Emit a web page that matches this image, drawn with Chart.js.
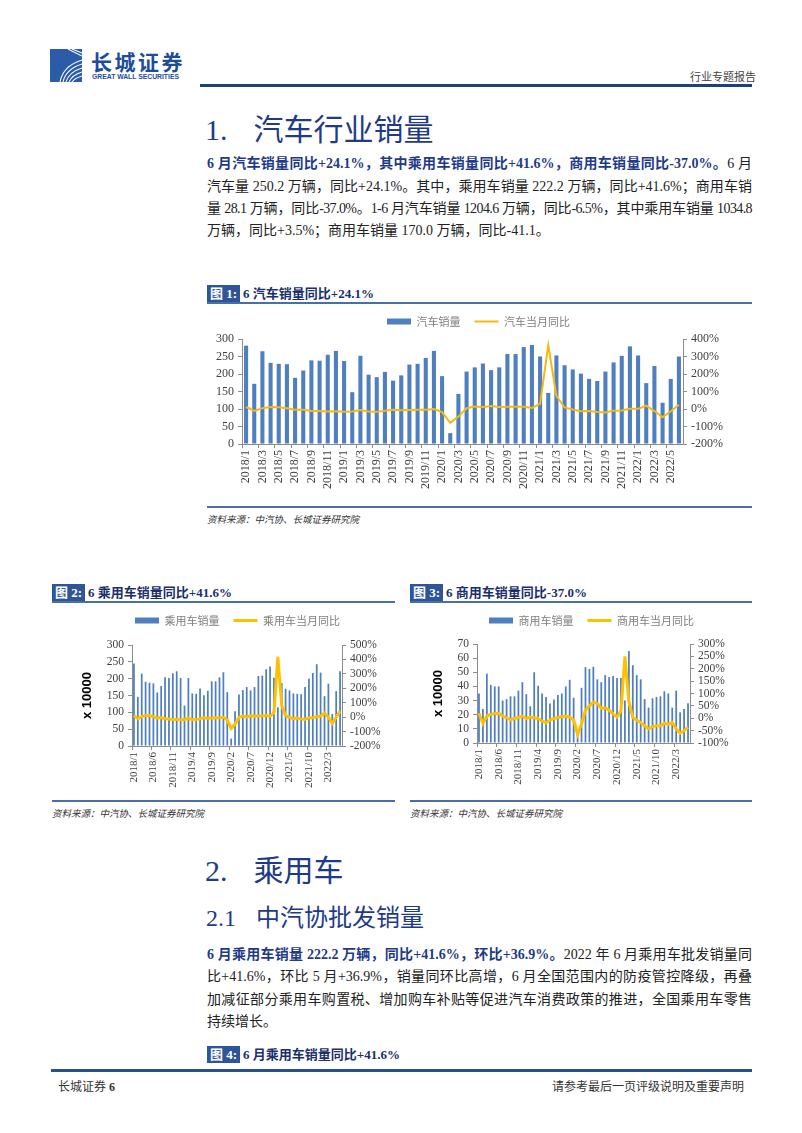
<!DOCTYPE html>
<html lang="zh-CN">
<head>
<meta charset="utf-8">
<title>汽车行业销量</title>
<script src="https://cdn.jsdelivr.net/npm/chart.js@4.4.0/dist/chart.umd.min.js"></script>
<style>
  html, body { margin: 0; padding: 0; background: #fff; }
  body { width: 802px; height: 1133px; position: relative; overflow: hidden;
         font-family: "Liberation Serif", "Noto Sans CJK SC", serif; color: #222; }
  .abs { position: absolute; white-space: nowrap; }
  .h1 { font-size: 30px; color: #1f3b87; line-height: 36px; }
  .h1 .cn, .h2 .cn { font-family: "Noto Sans CJK SC", sans-serif; }
  .h2 { font-size: 24px; color: #1f3b87; line-height: 30px; }
  .para { width: 545px; font-size: 14px; line-height: 22px; text-align: justify; text-align-last: justify; }
  .para.last { text-align-last: left; }
  .lead { color: #1f3b87; font-weight: bold; }
  .fig { font-size: 13px; line-height: 17px; font-weight: bold; color: #1a2f6b; }
  .fig .tag { display: inline-block; background: #2e5597; color: #fff; padding: 0 3px; margin-right: 3px; }
  .rule { position: absolute; background: #4a6ea8; }
  .src { font-size: 9.5px; font-style: italic; color: #333; }
  canvas { position: absolute; }
</style>
</head>
<body>

<!-- header -->
<svg class="abs" style="left:50px;top:49px" width="32" height="33" viewBox="0 0 32 33">
  <rect width="32" height="33" fill="#2b5ca8"/>
  <g fill="none" stroke="#fff" stroke-width="1.1">
    <path d="M10 33 Q 13 17 32 11"/>
    <path d="M13 33 Q 16 20 32 15"/>
    <path d="M16 33 Q 19 23 32 19"/>
    <path d="M19 33 Q 22 26 32 23"/>
    <path d="M22 33 Q 25 29 32 27"/>
    <path d="M18 0 L 32 7"/>
    <path d="M22 0 L 32 4"/>
  </g>
</svg>
<div class="abs" style="left:91px;top:48px;font-family:'Noto Sans CJK SC';font-weight:bold;font-size:21px;letter-spacing:2.5px;color:#1d4c9c;line-height:26px">长城证券</div>
<div class="abs" style="left:92px;top:73px;font-family:'Liberation Sans';font-weight:bold;font-size:6.8px;color:#1d4c9c;line-height:8px">GREAT WALL SECURITIES</div>
<div class="abs" style="left:690px;top:69px;font-family:'Noto Sans CJK SC';font-size:11px;color:#444;line-height:14px">行业专题报告</div>
<div class="rule" style="left:200px;top:84px;width:552px;height:2.5px;background:#1f3f7f"></div>

<!-- section 1 -->
<div class="abs h1" style="left:205px;top:109px">1.<span style="display:inline-block;width:26px"></span><span class="cn">汽车行业销量</span></div>

<div class="abs para" style="left:207px;top:153px"><span class="lead">6 月汽车销量同比+24.1%，其中乘用车销量同比+41.6%，商用车销量同比-37.0%。</span>6 月</div>
<div class="abs para" style="left:207px;top:176px">汽车量 250.2 万辆，同比+24.1%。其中，乘用车销量 222.2 万辆，同比+41.6%；商用车销</div>
<div class="abs para" style="left:207px;top:198px;letter-spacing:-0.6px">量 28.1 万辆，同比-37.0%。1-6 月汽车销量 1204.6 万辆，同比-6.5%，其中乘用车销量 1034.8</div>
<div class="abs para last" style="left:207px;top:220px">万辆，同比+3.5%；商用车销量 170.0 万辆，同比-41.1。</div>

<!-- figure 1 -->
<div class="abs fig" style="left:207px;top:285px"><span class="tag">图 1:</span>6 汽车销量同比+24.1%</div>
<div class="rule" style="left:207px;top:302px;width:545px;height:1.5px"></div>
<canvas id="chart1" width="547" height="200" style="left:205px;top:302px"></canvas>
<div class="rule" style="left:207px;top:506px;width:545px;height:2px"></div>
<div class="abs src" style="left:207px;top:512px">资料来源：中汽协、长城证券研究院</div>

<!-- figure 2 -->
<div class="abs fig" style="left:52px;top:584px"><span class="tag">图 2:</span>6 乘用车销量同比+41.6%</div>
<div class="rule" style="left:52px;top:601px;width:343px;height:1.5px"></div>
<canvas id="chart2" width="343" height="197" style="left:52px;top:601px"></canvas>
<div class="rule" style="left:52px;top:800px;width:343px;height:2px"></div>
<div class="abs src" style="left:52px;top:806px">资料来源：中汽协、长城证券研究院</div>

<!-- figure 3 -->
<div class="abs fig" style="left:410px;top:584px"><span class="tag">图 3:</span>6 商用车销量同比-37.0%</div>
<div class="rule" style="left:410px;top:601px;width:342px;height:1.5px"></div>
<canvas id="chart3" width="342" height="197" style="left:410px;top:601px"></canvas>
<div class="rule" style="left:410px;top:800px;width:342px;height:2px"></div>
<div class="abs src" style="left:410px;top:806px">资料来源：中汽协、长城证券研究院</div>

<!-- section 2 -->
<div class="abs h1" style="left:205px;top:850px">2.<span style="display:inline-block;width:26px"></span><span class="cn">乘用车</span></div>
<div class="abs h2" style="left:206px;top:901px">2.1<span style="display:inline-block;width:20px"></span><span class="cn">中汽协批发销量</span></div>

<div class="abs para" style="left:207px;top:944px"><span class="lead">6 月乘用车销量 222.2 万辆，同比+41.6%，环比+36.9%。</span>2022 年 6 月乘用车批发销量同</div>
<div class="abs para" style="left:207px;top:966px">比+41.6%，环比 5 月+36.9%，销量同环比高增，6 月全国范围内的防疫管控降级，再叠</div>
<div class="abs para" style="left:207px;top:989px">加减征部分乘用车购置税、增加购车补贴等促进汽车消费政策的推进，全国乘用车零售</div>
<div class="abs para last" style="left:207px;top:1011px">持续增长。</div>

<div class="abs fig" style="left:207px;top:1046px"><span class="tag">图 4:</span>6 月乘用车销量同比+41.6%</div>

<!-- footer -->
<div class="rule" style="left:51px;top:1069px;width:701px;height:2.5px;background:#2a4f8f"></div>
<div class="abs" style="left:58px;top:1078px;font-size:12px;line-height:16px;color:#333"><span style="font-family:'Noto Sans CJK SC'">长城证券</span> <b>6</b></div>
<div class="abs" style="left:552px;top:1078px;font-family:'Noto Sans CJK SC';font-size:12px;line-height:16px;color:#333">请参考最后一页评级说明及重要声明</div>

<script>
const months = [
    "2018/1", "2018/2", "2018/3", "2018/4", "2018/5", "2018/6", "2018/7", "2018/8", "2018/9", "2018/10", "2018/11", "2018/12",
    "2019/1", "2019/2", "2019/3", "2019/4", "2019/5", "2019/6", "2019/7", "2019/8", "2019/9", "2019/10", "2019/11", "2019/12",
    "2020/1", "2020/2", "2020/3", "2020/4", "2020/5", "2020/6", "2020/7", "2020/8", "2020/9", "2020/10", "2020/11", "2020/12",
    "2021/1", "2021/2", "2021/3", "2021/4", "2021/5", "2021/6", "2021/7", "2021/8", "2021/9", "2021/10", "2021/11", "2021/12",
    "2022/1", "2022/2", "2022/3", "2022/4", "2022/5", "2022/6"
];

// 汽车销量 (万辆) and 当月同比 (%)
const autoSales = [
    281, 172, 265, 232, 229, 228, 189, 210, 239, 238, 255, 266,
    237, 148, 252, 198, 191, 206, 181, 196, 227, 229, 246, 266,
    194, 31, 143, 207, 219, 230, 211, 219, 257, 257, 277, 283,
    250, 146, 253, 225, 213, 201, 186, 180, 207, 233, 252, 279,
    253, 174, 223, 118, 186, 250
];
const autoYoY = [
    11.5, -11.1, 4.7, 11.5, 9.6, 4.8, -4.0, -3.8, -11.6, -11.7, -13.9, -13.0,
    -15.8, -13.8, -5.2, -14.6, -16.4, -9.6, -4.3, -6.9, -5.2, -4.0, -3.6, 0.1,
    -18.0, -79.1, -43.3, 4.4, 14.5, 11.6, 16.4, 11.6, 12.8, 12.5, 12.6, 6.4,
    29.5, 364.8, 74.9, 8.6, -3.1, -12.4, -11.9, -17.8, -19.6, -9.4, -9.1, 1.6,
    0.9, 18.7, -11.7, -47.6, -12.6, 24.1
];

// 乘用车
const pvSales = [
    245, 146, 215, 191, 188, 186, 159, 178, 204, 202, 216, 222,
    202, 120, 202, 156, 155, 171, 151, 164, 192, 192, 204, 219,
    160, 22, 103, 153, 166, 175, 165, 175, 208, 209, 228, 236,
    203, 115, 187, 170, 165, 156, 155, 154, 175, 200, 217, 243,
    218, 148, 185, 95, 163, 222
];
const pvYoY = [
    11, -11, 3, 12, 11, 3, -5, -3, -12, -13, -16, -16,
    -18, -18, -7, -18, -17, -10, -4, -7, -6, -5, -5, -1,
    -20, -79, -48, -2, 7, 2, 9, 6, 8, 10, 11, 7,
    30, 418, 82, 11, -1, -11, -6, -12, -16, -4, -5, 3,
    7, 28, -1, -44, -1, 42
];

// 商用车
const cvSales = [
    35, 24, 49, 41, 40, 40, 30, 31, 33, 33, 37, 43,
    34.5, 26, 50, 40.5, 35, 32.6, 28, 30.7, 34, 35, 40, 44.7,
    32, 9, 39, 53.6, 52.4, 53.9, 45, 43, 48, 46.6, 47.3, 46,
    46, 30, 65, 55, 48, 45, 31, 25, 31.6, 32.6, 33, 36.5,
    35, 25, 37, 21.7, 24, 28.1
];
const cvYoY = [
    20, -21, 9, 16, 19, 20, 9, 1, -6, -1, 3, 8,
    -1, 5, 2, -1, -12, -18, -7, -1, 3, 6, 8, 4,
    -7, -65, -22, 32, 50, 65, 60, 40, 41, 33, 18, 5,
    30, 250, 67, 3, -8, -17, -31, -42, -34, -30, -30, -21,
    -24, -17, -43, -61, -50, -37
];

const serif = '"Liberation Serif", "Times New Roman", serif';
const cjk = '"Noto Sans CJK SC", sans-serif';
const axisGrey = "#8c8c8c";
const textGrey = "#404040";

function drawChart(id, o) {
    const ctx = document.getElementById(id).getContext("2d");
    return new Chart(ctx, {
        data: {
            labels: months,
            datasets: [
                {
                    type: "line", label: o.lineLabel, data: o.line,
                    borderColor: o.lineColor, backgroundColor: o.lineColor,
                    borderWidth: o.lineWidth, pointBorderWidth: o.lineWidth,
                    pointRadius: 0, tension: 0, pointStyle: "line",
                    xAxisID: "x", yAxisID: "y1", order: 1
                },
                {
                    type: "bar", label: o.barLabel, data: o.bars,
                    backgroundColor: "#4f7fbe", borderWidth: 0, pointStyle: "rect",
                    barPercentage: o.barPct, categoryPercentage: 1,
                    xAxisID: "x", yAxisID: "y", order: 2
                }
            ]
        },
        options: {
            responsive: false,
            animation: false,
            layout: { padding: { left: o.padLeft, right: 0, top: 0, bottom: 0 } },
            plugins: {
                tooltip: { enabled: false },
                legend: {
                    position: "top",
                    reverse: true,
                    labels: {
                        usePointStyle: true, pointStyleWidth: 24, boxHeight: 6,
                        padding: 14, color: "#7f7f7f",
                        font: { family: cjk, size: 11 }
                    }
                }
            },
            scales: {
                x: {
                    type: "category",
                    offset: true,
                    grid: {
                        offset: true, drawOnChartArea: false, tickLength: 4,
                        color: c => (c.index % o.every === 0 ? axisGrey : "rgba(0,0,0,0)")
                    },
                    border: { color: axisGrey },
                    ticks: {
                        autoSkip: false, maxRotation: 90, minRotation: 90, padding: 2,
                        color: textGrey, font: { family: serif, size: o.xFont },
                        callback: function (v, i) { return i % o.every === 0 ? this.getLabelForValue(v) : ""; }
                    },
                    afterFit: s => { s.height = o.xH; }
                },
                spacer: {
                    type: "category", position: "top",
                    grid: { display: false }, border: { display: false },
                    ticks: { display: false },
                    afterFit: s => { s.height = o.spacer; }
                },
                y: {
                    position: "left", min: o.lMin, max: o.lMax,
                    ticks: { stepSize: o.lStep, autoSkip: false, color: textGrey, padding: 4, font: { family: serif, size: o.yFont } },
                    grid: { drawOnChartArea: false, tickLength: 4, color: axisGrey },
                    border: { color: axisGrey },
                    title: o.yTitle ? {
                        display: true, text: o.yTitle, color: "#000", padding: { top: 0, bottom: 2 },
                        font: { family: '"Liberation Sans", Arial, sans-serif', size: 13, weight: "bold" }
                    } : { display: false },
                    afterFit: s => { s.width = o.leftW; }
                },
                y1: {
                    position: "right", min: o.rMin, max: o.rMax,
                    ticks: {
                        stepSize: o.rStep, autoSkip: false, color: textGrey, padding: 4, font: { family: serif, size: o.yFont },
                        callback: v => v + "%"
                    },
                    grid: { drawOnChartArea: false, tickLength: 4, color: axisGrey },
                    border: { color: axisGrey },
                    afterFit: s => { s.width = o.rightW; }
                }
            }
        }
    });
}

drawChart("chart1", {
    barLabel: "汽车销量", lineLabel: "汽车当月同比",
    bars: autoSales, line: autoYoY, lineColor: "#f6b90f", lineWidth: 2,
    lMin: 0, lMax: 300, lStep: 50, rMin: -200, rMax: 400, rStep: 100,
    every: 2, barPct: 0.5, xFont: 12, yFont: 12,
    padLeft: 0, leftW: 37, rightW: 69, xH: 58, spacer: 2, yTitle: null
});

drawChart("chart2", {
    barLabel: "乘用车销量", lineLabel: "乘用车当月同比",
    bars: pvSales, line: pvYoY, lineColor: "#ffc000", lineWidth: 3,
    lMin: 0, lMax: 300, lStep: 50, rMin: -200, rMax: 500, rStep: 100,
    every: 5, barPct: 0.45, xFont: 11, yFont: 11.5,
    padLeft: 28, leftW: 52, rightW: 53, xH: 52, spacer: 9, yTitle: "x 10000"
});

drawChart("chart3", {
    barLabel: "商用车销量", lineLabel: "商用车当月同比",
    bars: cvSales, line: cvYoY, lineColor: "#ffc000", lineWidth: 3,
    lMin: 0, lMax: 70, lStep: 10, rMin: -100, rMax: 300, rStep: 50,
    every: 5, barPct: 0.45, xFont: 11, yFont: 11.5,
    padLeft: 21, leftW: 46, rightW: 62, xH: 55, spacer: 8, yTitle: "x 10000"
});
</script>
</body>
</html>
